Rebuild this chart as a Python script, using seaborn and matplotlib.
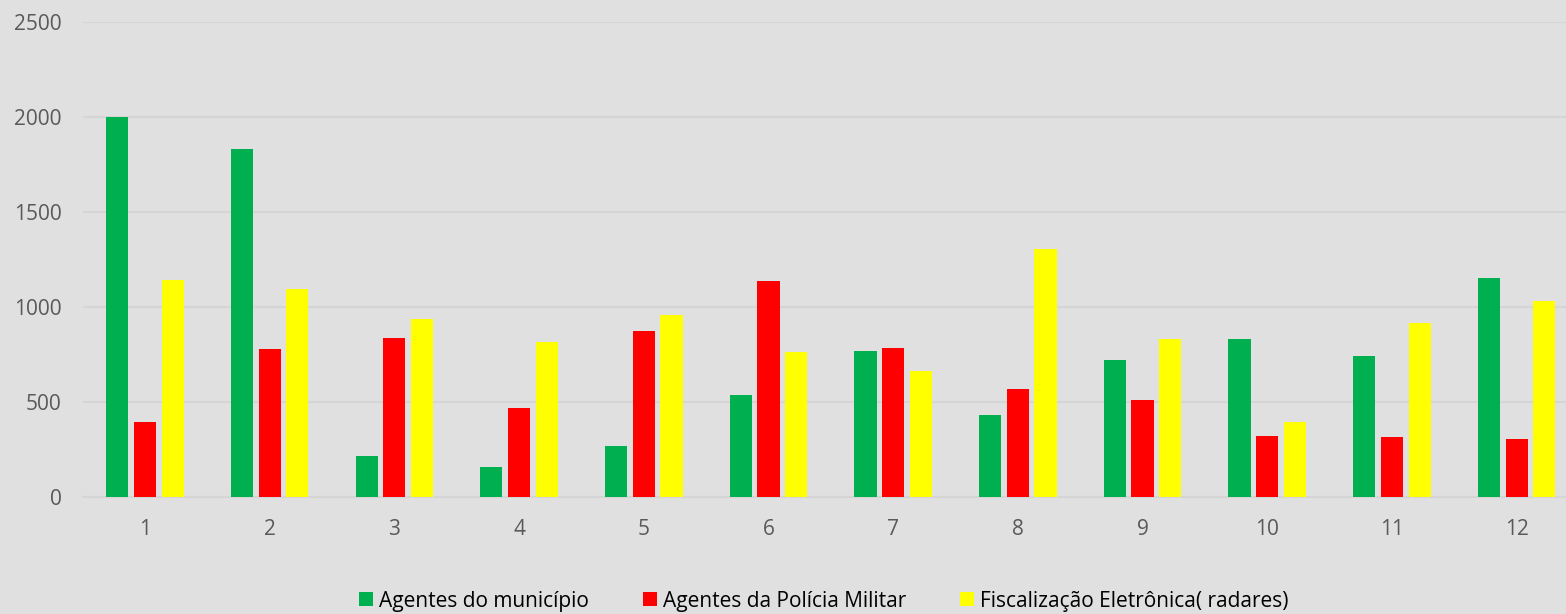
import matplotlib
matplotlib.use("Agg")
import matplotlib.pyplot as plt
import seaborn as sns
import pandas as pd

categories = [str(i) for i in range(1, 13)]
series_names = ["Agentes do município", "Agentes da Polícia Militar", "Fiscalização Eletrônica( radares)"]
agentes_municipio = [2000, 1832, 216, 158, 268, 537, 768, 432, 721, 832, 742, 1153]
agentes_pm = [395, 779, 837, 468, 874, 1137, 784, 568, 510, 321, 316, 305]
radares = [1142, 1095, 937, 816, 958, 763, 663, 1305, 832, 395, 916, 1032]
colors = ["#00B050", "#FF0000", "#FFFF00"]
y_ticks = [0, 500, 1000, 1500, 2000, 2500]

rows = []
for name, vals in zip(series_names, [agentes_municipio, agentes_pm, radares]):
    for c, v in zip(categories, vals):
        rows.append({"mes": c, "serie": name, "valor": v})
df = pd.DataFrame(rows)

sns.set_theme(style="white")
plt.rcParams["font.family"] = ["Open Sans", "DejaVu Sans"]

bg = "#E0E0E0"
fig = plt.figure(figsize=(15.66, 6.14), dpi=100, facecolor=bg)
ax = fig.add_axes([82.6 / 1566, 117 / 614, (1579 - 82.6) / 1566, 475 / 614])
ax.set_facecolor(bg)

sns.barplot(data=df, x="mes", y="valor", hue="serie", order=categories,
            hue_order=series_names, palette=colors, width=0.666, gap=0.2,
            saturation=1, ax=ax, legend=True, zorder=3, linewidth=0)

ax.set_xlim(-0.5, 11.5)
ax.set_ylim(0, 2500)
ax.set_yticks(y_ticks)
ax.yaxis.grid(True, color="#D5D5D5", linewidth=1.5, zorder=0)
ax.set_axisbelow(True)
for s in ["top", "right", "left"]:
    ax.spines[s].set_visible(False)
ax.spines["bottom"].set_color("#D5D5D5")
ax.spines["bottom"].set_linewidth(1.5)
ax.set_xlabel("")
ax.set_ylabel("")
ax.tick_params(axis="both", length=0, labelsize=15, labelcolor="#595959")
ax.tick_params(axis="x", pad=16)
ax.tick_params(axis="y", pad=15)

handles, labels = ax.get_legend_handles_labels()
ax.get_legend().remove()
fig.legend(handles, labels, loc="center", bbox_to_anchor=(824 / 1566, 13 / 614),
           ncol=3, frameon=False, fontsize=15, handlelength=0.65, handleheight=0.65,
           handletextpad=0.3, columnspacing=2.6, labelcolor="black")

fig.savefig("out.png", dpi=100, facecolor=bg)
